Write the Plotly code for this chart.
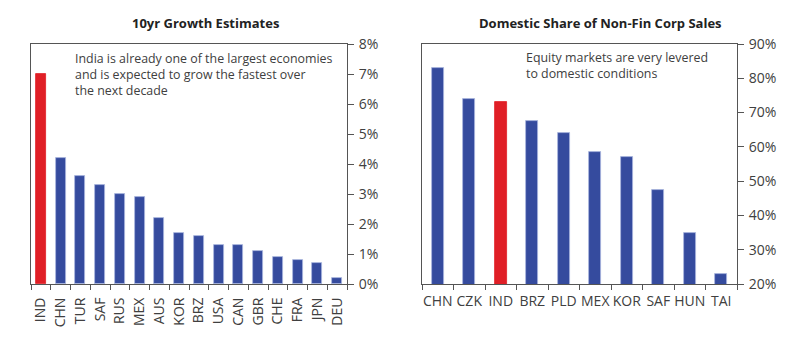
import plotly.graph_objects as go

W, H = 806, 346

growth_countries = ["IND", "CHN", "TUR", "SAF", "RUS", "MEX", "AUS", "KOR", "BRZ",
                    "USA", "CAN", "GBR", "CHE", "FRA", "JPN", "DEU"]
growth_values = [7.0, 4.2, 3.6, 3.3, 3.0, 2.9, 2.2, 1.7, 1.6, 1.3, 1.3, 1.1, 0.9, 0.8, 0.7, 0.2]

share_countries = ["CHN", "CZK", "IND", "BRZ", "PLD", "MEX", "KOR", "SAF", "HUN", "TAI"]
share_values = [83.0, 74.0, 73.0, 67.5, 64.0, 58.5, 57.0, 47.5, 35.0, 23.0]

growth_ticks = list(range(0, 9))
share_ticks = list(range(20, 91, 10))

BLUE = "#354b9e"
RED = "#e01f26"
EDGE = "#aab6de"
TXT = "#404040"
AX = "#555555"
FONT = "Open Sans"

def colors(cats):
    return [RED if c == "IND" else BLUE for c in cats]

def edges(cats):
    return [RED if c == "IND" else EDGE for c in cats]

fig = go.Figure()
fig.add_trace(go.Bar(x=growth_countries, y=growth_values, width=0.5,
                     marker=dict(color=colors(growth_countries),
                                 line=dict(color=edges(growth_countries), width=0.8)),
                     xaxis="x", yaxis="y", showlegend=False))
fig.add_trace(go.Bar(x=share_countries, y=share_values, width=0.39,
                     marker=dict(color=colors(share_countries),
                                 line=dict(color=edges(share_countries), width=0.8)),
                     xaxis="x2", yaxis="y2", showlegend=False, base=0))

ydom = [1 - 284 / H, 1 - 44 / H]
common_x = dict(showline=True, linecolor=AX, linewidth=1, mirror=True, ticks="outside",
                tickson="boundaries", ticklen=5, tickcolor=AX, showgrid=False,
                automargin=False, tickfont=dict(family=FONT, size=14, color=TXT))
common_y = dict(showline=True, linecolor=AX, linewidth=1, mirror=True, side="right",
                ticks="outside", ticklen=6, tickcolor=AX, showgrid=False, zeroline=False,
                automargin=False, ticklabelstandoff=2,
                tickfont=dict(family=FONT, size=14, color=TXT))

fig.update_layout(
    width=W, height=H, margin=dict(l=0, r=0, t=0, b=0),
    paper_bgcolor="white", plot_bgcolor="white", bargap=0,
    font=dict(family=FONT, color=TXT),
    xaxis=dict(domain=[31 / W, 347 / W], anchor="y", tickangle=-90,
               ticklabelstandoff=7, **common_x),
    yaxis=dict(domain=ydom, anchor="x", range=[0, 8], tickvals=growth_ticks,
               ticktext=[f"{v}%" for v in growth_ticks], **common_y),
    xaxis2=dict(domain=[422 / W, 737 / W], anchor="y2", tickangle=0,
                ticklabelstandoff=4, **common_x),
    yaxis2=dict(domain=ydom, anchor="x2", range=[20, 90], tickvals=share_ticks,
                ticktext=[f"{v}%" for v in share_ticks], **common_y),
    annotations=[
        dict(text="<b>10yr Growth Estimates</b>", x=205 / W, y=1 - 23 / H, xref="paper",
             yref="paper", showarrow=False, xanchor="center", yanchor="middle",
             font=dict(family=FONT, size=13, color="#222222")),
        dict(text="<b>Domestic Share of Non-Fin Corp Sales</b>", x=600 / W, y=1 - 23 / H,
             xref="paper", yref="paper", showarrow=False, xanchor="center", yanchor="middle",
             font=dict(family=FONT, size=13, color="#222222")),
        dict(text="India is already one of the largest economies<br>and is expected to grow the fastest over<br>the next decade",
             x=73 / W, y=1 - 48 / H, xref="paper", yref="paper", showarrow=False,
             xanchor="left", yanchor="top", align="left",
             font=dict(family=FONT, size=12.4, color=TXT)),
        dict(text="Equity markets are very levered<br>to domestic conditions",
             x=524 / W, y=1 - 47 / H, xref="paper", yref="paper", showarrow=False,
             xanchor="left", yanchor="top", align="left",
             font=dict(family=FONT, size=12.4, color=TXT)),
    ],
)

fig.write_html("out.html")
